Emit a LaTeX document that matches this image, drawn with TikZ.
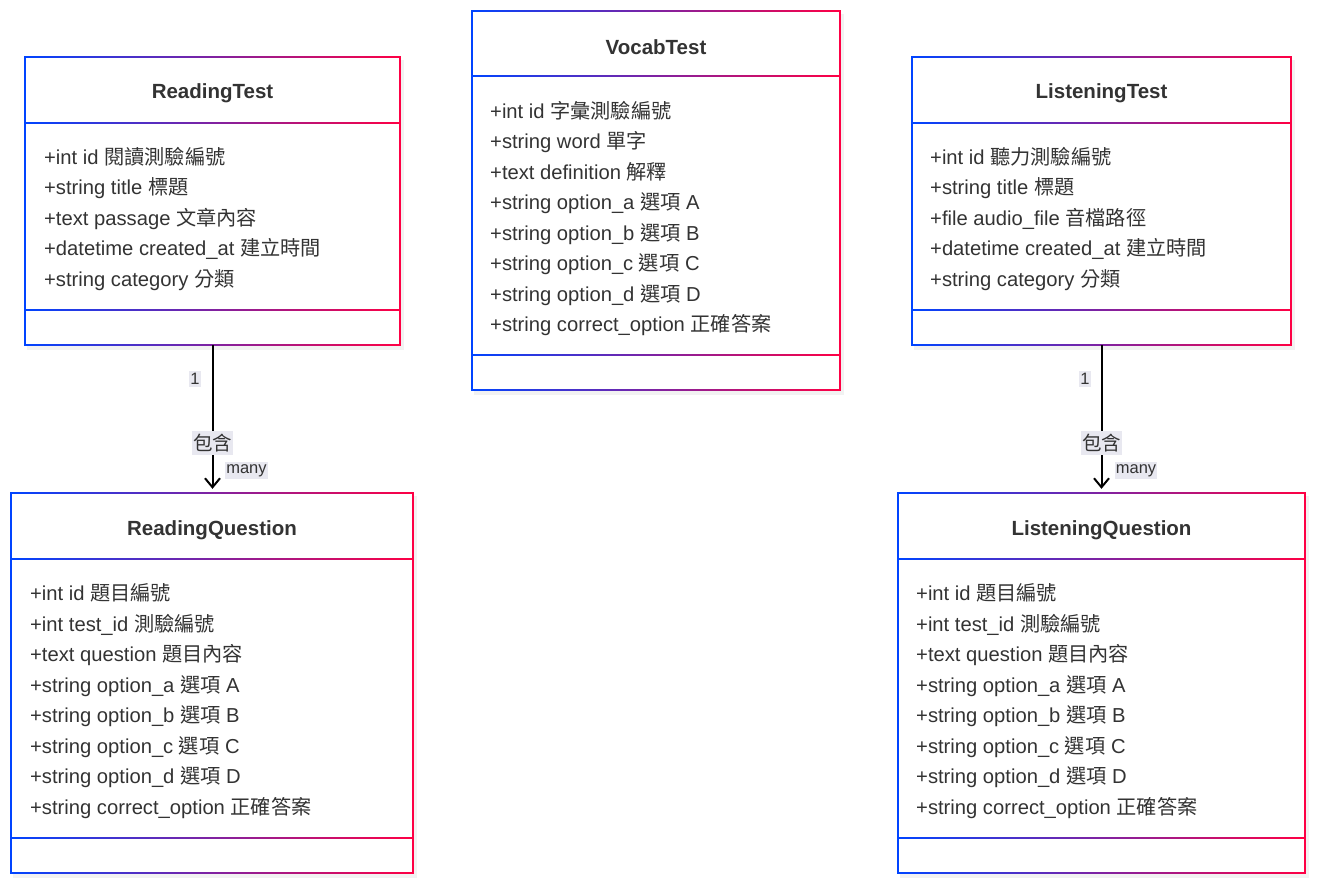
\documentclass[tikz,border=0pt]{standalone}
\usepackage{fontspec}
\setmainfont{Liberation Sans}
\newfontfamily\cjk{Noto Sans CJK TC}
\usetikzlibrary{arrows.meta,fit}
\definecolor{cblue}{RGB}{0,68,255}
\definecolor{cred}{RGB}{255,0,68}
\definecolor{txt}{RGB}{51,51,51}
\definecolor{lblbg}{RGB}{232,232,240}
\newcommand\zh[1]{{\cjk #1}}
\newcommand\umlbox[7]{%
  \fill[black,opacity=0.05] (#2+2,#3+3) rectangle (#4+4,#5+5);
  \shade[left color=cblue,right color=cred] (#2-0.8,#3-0.8) rectangle (#4+0.8,#5+0.8);
  \fill[white] (#2+0.8,#3+0.8) rectangle (#4-0.8,#5-0.8);
  \shade[left color=cblue,right color=cred] (#2,#6-0.8) rectangle (#4,#6+0.8);
  \shade[left color=cblue,right color=cred] (#2,#7-0.8) rectangle (#4,#7+0.8);
  \node[fit={(#2,#3) (#4,#5)},inner sep=0pt,draw=none] (#1) {};
}
\newcommand\rows[4]{%
  \foreach \t [count=\i from 0] in {#4} {
    \node[attr] (#1-\i) at (#2,#3+30.57*\i) {\t};
  }
}
\tikzset{
  attr/.style={anchor=west,inner sep=0pt,text=txt,text height=14pt,text depth=4pt,yshift=-2pt,
    font=\fontsize{20.2}{24}\selectfont},
  title/.style={inner sep=0pt,text=txt,yshift=-2pt,font=\fontsize{20.5}{24}\selectfont\bfseries},
  conn/.style={draw=black,line width=2pt,-{Straight Barb[length=9pt,width=15pt,line width=2pt]},shorten >=4pt},
  lbl/.style={fill=lblbg,text=txt,inner xsep=1pt,inner ysep=2pt,font=\fontsize{16.5}{18}\selectfont},
  lblbig/.style={fill=lblbg,text=txt,inner xsep=1pt,inner ysep=3pt,font=\fontsize{19.5}{22}\selectfont\cjk},
}
\begin{document}
\begin{tikzpicture}[x=1pt,y=-1pt]
\useasboundingbox (0,0) rectangle (1320,887);
% boxes
\umlbox{rt}{25}{57}{400}{345}{123}{310}
\umlbox{vt}{472}{11}{840}{390}{76}{355}
\umlbox{lt}{912}{57}{1291}{345}{123}{310}
\umlbox{rq}{11}{493}{413}{873}{559}{838}
\umlbox{lq}{898}{493}{1305}{873}{559}{838}
% titles
\node[title] (rt-t) at (212.5,91) {ReadingTest};
\node[title] (vt-t) at (656,45) {VocabTest};
\node[title] (lt-t) at (1101.5,91) {ListeningTest};
\node[title] (rq-t) at (212,528) {ReadingQuestion};
\node[title] (lq-t) at (1101.5,528) {ListeningQuestion};
% attributes
\rows{rt}{44}{157}{+int id \zh{閱讀測驗編號},+string title \zh{標題},+text passage \zh{文章內容},+datetime created\_at \zh{建立時間},+string category \zh{分類}}
\rows{vt}{490}{111}{+int id \zh{字彙測驗編號},+string word \zh{單字},+text definition \zh{解釋},+string option\_a \zh{選項} A,+string option\_b \zh{選項} B,+string option\_c \zh{選項} C,+string option\_d \zh{選項} D,+string correct\_option \zh{正確答案}}
\rows{lt}{930}{157}{+int id \zh{聽力測驗編號},+string title \zh{標題},+file audio\_file \zh{音檔路徑},+datetime created\_at \zh{建立時間},+string category \zh{分類}}
\rows{rq}{30}{593.5}{+int id \zh{題目編號},+int test\_id \zh{測驗編號},+text question \zh{題目內容},+string option\_a \zh{選項} A,+string option\_b \zh{選項} B,+string option\_c \zh{選項} C,+string option\_d \zh{選項} D,+string correct\_option \zh{正確答案}}
\rows{lq}{916}{593.5}{+int id \zh{題目編號},+int test\_id \zh{測驗編號},+text question \zh{題目內容},+string option\_a \zh{選項} A,+string option\_b \zh{選項} B,+string option\_c \zh{選項} C,+string option\_d \zh{選項} D,+string correct\_option \zh{正確答案}}
% connectors
\draw[conn] (rt.south) -- node[lblbig,pos=0.66] (rc) {包含} (rt.south |- rq.north);
\draw[conn] (lt.south) -- node[lblbig,pos=0.66] (lc) {包含} (lt.south |- lq.north);
\node[lbl] (r1) at (195,379) {1};
\node[lbl] (rm) at (246.5,470.5) {many};
\node[lbl] (l1) at (1085,379) {1};
\node[lbl] (lm) at (1136,470.5) {many};
\end{tikzpicture}
\end{document}
